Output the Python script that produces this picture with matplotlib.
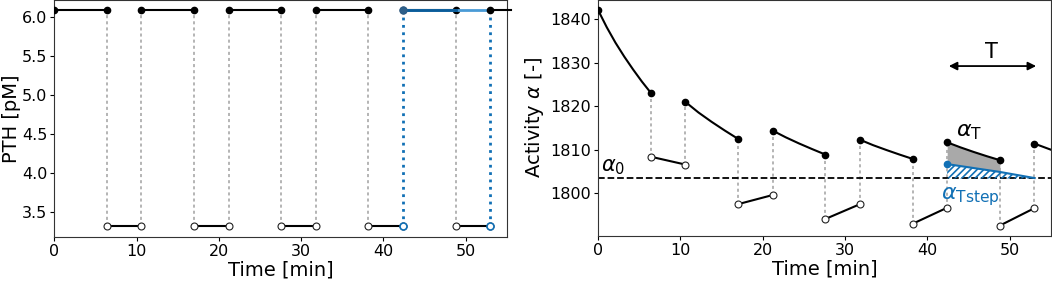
import numpy as np
import matplotlib
matplotlib.use('Agg')
import matplotlib.pyplot as plt

plt.rcParams['font.family'] = ['DejaVu Sans']
plt.rcParams['hatch.linewidth'] = 1.2

# switching times of the PTH pulse train [min]
t_switch = [0, 6.4, 10.6, 17.0, 21.2, 27.6, 31.8, 38.2, 42.4, 48.8, 53.0]
pth_high = 6.08
pth_low = 3.32
t_end = 55

# activity during high PTH phases
high_t = [
    [0, 1.07, 2.13, 3.2, 4.27, 5.33, 6.4],
    [10.6, 12.2, 13.8, 15.4, 17.0],
    [21.2, 22.8, 24.4, 26.0, 27.6],
    [31.8, 33.4, 35.0, 36.6, 38.2],
    [42.4, 44.0, 45.6, 47.2, 48.8],
    [53.0, 54.0, 55.0],
]
high_a = [
    [1842.1, 1838.1, 1834.55, 1831.35, 1828.4, 1825.65, 1823.1],
    [1821.0, 1818.55, 1816.4, 1814.4, 1812.5],
    [1814.4, 1812.85, 1811.45, 1810.15, 1808.9],
    [1812.3, 1811.05, 1809.95, 1808.9, 1807.9],
    [1811.7, 1810.55, 1809.5, 1808.52, 1807.6],
    [1811.4, 1810.7, 1810.0],
]
# activity during low PTH phases
low_t = [[6.4, 10.6], [17.0, 21.2], [27.6, 31.8], [38.2, 42.4], [48.8, 53.0]]
low_a = [[1808.4, 1806.6], [1797.5, 1799.6], [1794.1, 1797.5], [1793.0, 1796.7], [1792.6, 1796.6]]

# single step response over one period
step_t = [42.4, 44.0, 45.6, 47.2, 48.8, 50.9, 53.0]
step_a = [1806.7, 1806.25, 1805.8, 1805.35, 1804.9, 1804.2, 1803.5]
alpha0 = 1803.4

blue = '#1170b5'
lblue = '#4a9bd6'
vline = dict(ls=(0, (2, 2)), color='#a0a0a0', lw=1.1, zorder=1)

fig = plt.figure(figsize=(10.52, 2.81), dpi=100)
ax1 = fig.add_axes([0.0516, 0.1577, 0.4300, 0.8423])
ax2 = fig.add_axes([0.5684, 0.1612, 0.4306, 0.8388])

dot = dict(marker='o', markersize=4.5, color='k', lw=1.5)
ring = dict(marker='o', markersize=5, color='k', lw=1.5, mfc='white', mec='#222222', mew=0.8)

# ---- left: PTH input ----
for t in t_switch[1:]:
    if t in (42.4, 53.0):
        continue
    ax1.plot([t, t], [pth_low, pth_high], **vline)
for i in range(0, len(t_switch) - 1, 2):
    ax1.plot(t_switch[i:i + 2], [pth_high] * 2, zorder=3, **dot)
for i in range(1, len(t_switch) - 1, 2):
    ax1.plot(t_switch[i:i + 2], [pth_low] * 2, zorder=3, **ring)
ax1.plot([t_switch[-1], t_end + 0.5], [pth_high] * 2, color='k', lw=1.5, clip_on=False, zorder=3)
ax1.plot([t_switch[-1]], [pth_high], marker='o', markersize=4.5, color='k', zorder=5)
# step highlighted in blue
ax1.plot([42.4, 53.0], [pth_high] * 2, color=lblue, lw=2, zorder=4)
ax1.plot([42.4, 48.8], [pth_high] * 2, color='#0b5c99', lw=2, zorder=4)
for t in (42.4, 53.0):
    ax1.plot([t, t], [pth_low, pth_high], ls=':', color=blue, lw=2, zorder=4)
    ax1.plot([t], [pth_low], marker='o', markersize=5, mfc='white', mec=blue, mew=1.2, zorder=5)
ax1.plot([42.4], [pth_high], marker='o', markersize=5, color='#2d5f8a', zorder=5)

ax1.set_xlim(0, t_end)
ax1.set_ylim(3.179, 6.214)
ax1.set_yticks([3.5, 4.0, 4.5, 5.0, 5.5, 6.0])
ax1.set_xlabel('Time [min]', fontsize=14, labelpad=1)
ax1.set_ylabel('PTH [pM]', fontsize=14, labelpad=1)

# ---- right: activity ----
ax2.plot([0, 0], [1790.3, high_a[0][0]], **vline)
for k in range(len(low_t)):
    for j in range(2):
        hi = high_a[k][-1] if j == 0 else high_a[k + 1][0]
        ax2.plot([low_t[k][j]] * 2, [low_a[k][j], hi], **vline)
for t, a in zip(high_t, high_a):
    ax2.plot(t, a, color='k', lw=1.5, zorder=3)
    ax2.plot([t[0]], [a[0]], marker='o', markersize=4.5, color='k', zorder=4)
    if t[-1] < t_end:
        ax2.plot([t[-1]], [a[-1]], marker='o', markersize=4.5, color='k', zorder=4)
for t, a in zip(low_t, low_a):
    ax2.plot(t, a, zorder=3, **ring)

ax2.axhline(alpha0, color='k', ls='--', lw=1.3, zorder=2)
n = len(high_t[4])
ax2.fill_between(high_t[4], step_a[:n], high_a[4], color='darkgray', lw=0, zorder=2)
ax2.fill_between(step_t, step_a, alpha0, facecolor='none', edgecolor=blue, hatch='/////', lw=0, zorder=2)
ax2.plot(step_t, step_a, color=blue, lw=1.5, zorder=3)
ax2.plot([step_t[0]], [step_a[0]], marker='o', markersize=4.5, color=blue, zorder=4)

ax2.text(0.4, alpha0 + 0.3, r'$\alpha_0$', fontsize=15, va='bottom', ha='left')
ax2.text(43.5, 1811.8, r'$\alpha_\mathrm{T}$', fontsize=16, va='bottom', ha='left')
ax2.text(41.6, 1799.2, r'$\alpha_\mathrm{Tstep}$', fontsize=16, va='center', ha='left', color=blue)
ax2.annotate('', xy=(42.6, 1829.2), xytext=(53.2, 1829.2),
             arrowprops=dict(arrowstyle='<|-|>', color='k', lw=1.3, mutation_scale=12,
                             shrinkA=0, shrinkB=0))
ax2.text(47.8, 1830.2, 'T', fontsize=15, ha='center', va='bottom')

ax2.set_xlim(0, t_end)
ax2.set_ylim(1790.27, 1844.36)
ax2.set_yticks([1800, 1810, 1820, 1830, 1840])
ax2.set_xlabel('Time [min]', fontsize=14, labelpad=1)
ax2.set_ylabel(r'Activity $\alpha$ [-]', fontsize=14, labelpad=3)

for ax in (ax1, ax2):
    ax.set_xticks([0, 10, 20, 30, 40, 50])
    ax.tick_params(labelsize=11.5, length=3, pad=2)
    for s in ax.spines.values():
        s.set_color('#333333')

fig.savefig('out.png', dpi=100)
